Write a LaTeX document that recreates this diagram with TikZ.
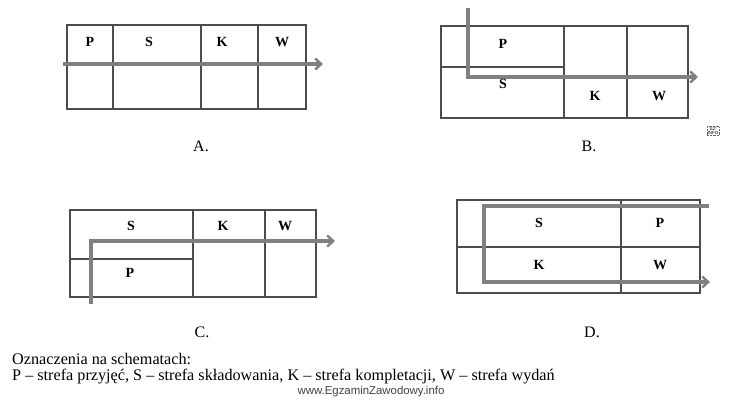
\documentclass[tikz,border=0pt]{standalone}
\usepackage{fontspec}
\setmainfont{Liberation Serif}
\newfontfamily\wmfont{Liberation Sans}
\usetikzlibrary{arrows.meta}

\begin{document}
\begin{tikzpicture}[
    x=1pt, y=-1pt,
    grid/.style={draw=black!70, line width=1.7pt},
    flow/.style={draw=black!50, line width=3.4pt},
    tip/.style={-{Straight Barb[length=6pt, width=11pt, line width=2.4pt]}},
    zone/.style={font=\fontsize{14}{14}\selectfont\bfseries, inner sep=0pt},
    caption/.style={font=\fontsize{16}{16}\selectfont, anchor=base, inner sep=0pt},
    legend/.style={font=\fontsize{16.2}{16.2}\selectfont, anchor=base west, inner sep=0pt}
  ]
    \useasboundingbox (0,0) rectangle (742,400);

    % --- A ---
    \draw[grid] (67,25) rectangle (306,109);
    \draw[grid] (113,25) -- (113,109) (201,25) -- (201,109) (258,25) -- (258,109);
    \coordinate (a1) at (63,64);
    \coordinate (a2) at (323,64);
    \draw[flow, tip] (a1) -- (a2);
    \node[zone] (aP) at (90,42) {P};
    \node[zone] (aS) at (149,42) {S};
    \node[zone] (aK) at (222,42) {K};
    \node[zone] (aW) at (282,42) {W};
    \node[caption] (capA) at (201,151) {A.};

    % --- B ---
    \draw[grid] (441,26) rectangle (688,118);
    \draw[grid] (564,26) -- (564,118) (627,26) -- (627,118) (441,67) -- (564,67);
    \coordinate (b1) at (468,8);
    \coordinate (b2) at (468,77);
    \coordinate (b3) at (698,77);
    \draw[flow, tip] (b1) -- (b2) -- (b3);
    \node[zone] (bP) at (503,44) {P};
    \node[zone] (bS) at (503,84) {S};
    \node[zone] (bK) at (595,96) {K};
    \node[zone] (bW) at (659,96) {W};
    \node[caption] (capB) at (589,151) {B.};
    % logo
    \node[draw=black!60, densely dotted, font=\wmfont\fontsize{4.5}{4.5}\selectfont, inner sep=0.6pt, align=center] (logo) at (713,131) {EZ\\INFO};

    % --- C ---
    \draw[grid] (70,210) rectangle (316,297);
    \draw[grid] (193,210) -- (193,297) (265,210) -- (265,297) (70,259) -- (193,259);
    \coordinate (c1) at (91,304);
    \coordinate (c2) at (91,241);
    \coordinate (c3) at (335,241);
    \draw[flow, tip] (c1) -- (c2) -- (c3);
    \node[zone] (cS) at (131,226) {S};
    \node[zone] (cK) at (223,226) {K};
    \node[zone] (cW) at (285,226) {W};
    \node[zone] (cP) at (130,273) {P};
    \node[caption] (capC) at (202,337) {C.};

    % --- D ---
    \draw[grid] (457,200) rectangle (700,293);
    \draw[grid] (621,200) -- (621,293) (457,247) -- (700,247);
    \coordinate (d1) at (709,206);
    \coordinate (d2) at (484,206);
    \coordinate (d3) at (484,282);
    \coordinate (d4) at (710,282);
    \draw[flow, tip] (d1) -- (d2) -- (d3) -- (d4);
    \node[zone] (dS) at (539,223) {S};
    \node[zone] (dP) at (660,223) {P};
    \node[zone] (dK) at (539,265) {K};
    \node[zone] (dW) at (660,265) {W};
    \node[caption] (capD) at (592,337) {D.};

    % --- legend ---
    \node[legend] (leg1) at (12,364) {Oznaczenia na schematach:};
    \node[legend] (leg2) at (12,380) {P – strefa przyjęć, S – strefa składowania, K – strefa kompletacji, W – strefa wydań};
    \node[font=\wmfont\fontsize{11.4}{11.4}\selectfont, text=black!75, anchor=base, inner sep=0pt] (wm) at (371,394) {www.EgzaminZawodowy.info};
\end{tikzpicture}
\end{document}
